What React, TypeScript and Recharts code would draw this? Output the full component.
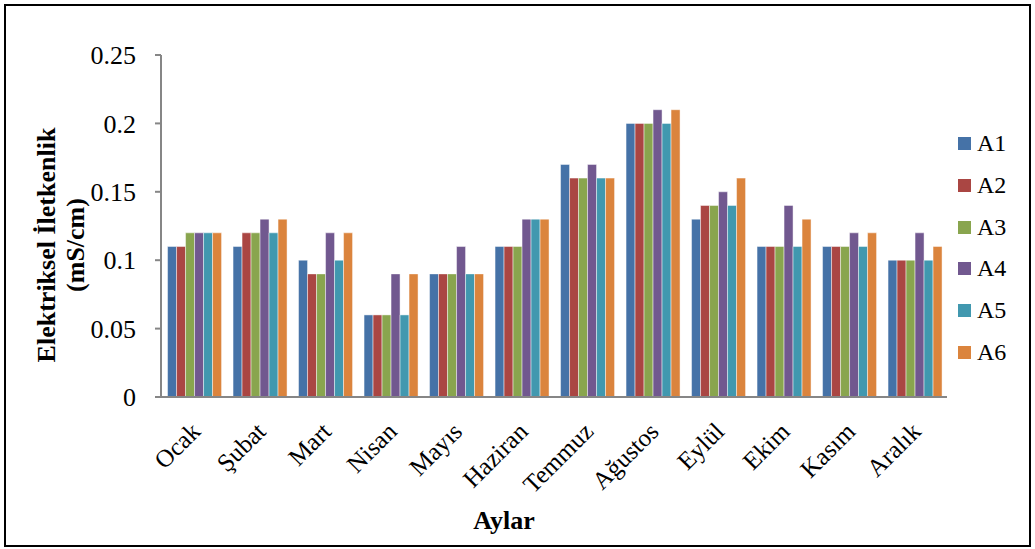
import { BarChart, Bar, XAxis, YAxis } from 'recharts';

const months = ['Ocak', 'Şubat', 'Mart', 'Nisan', 'Mayıs', 'Haziran', 'Temmuz', 'Ağustos', 'Eylül', 'Ekim', 'Kasım', 'Aralık'];

const A1 = [0.11, 0.11, 0.1, 0.06, 0.09, 0.11, 0.17, 0.2, 0.13, 0.11, 0.11, 0.1];
const A2 = [0.11, 0.12, 0.09, 0.06, 0.09, 0.11, 0.16, 0.2, 0.14, 0.11, 0.11, 0.1];
const A3 = [0.12, 0.12, 0.09, 0.06, 0.09, 0.11, 0.16, 0.2, 0.14, 0.11, 0.11, 0.1];
const A4 = [0.12, 0.13, 0.12, 0.09, 0.11, 0.13, 0.17, 0.21, 0.15, 0.14, 0.12, 0.12];
const A5 = [0.12, 0.12, 0.1, 0.06, 0.09, 0.13, 0.16, 0.2, 0.14, 0.11, 0.11, 0.1];
const A6 = [0.12, 0.13, 0.12, 0.09, 0.09, 0.13, 0.16, 0.21, 0.16, 0.13, 0.12, 0.11];

const yTicks = [0, 0.05, 0.1, 0.15, 0.2, 0.25];
const boundaryTicks = [0, 1, 2, 3, 4, 5, 6, 7, 8, 9, 10, 11, 12];

const series = [
  { key: 'A1', values: A1, color: '#4572A7' },
  { key: 'A2', values: A2, color: '#AA4643' },
  { key: 'A3', values: A3, color: '#89A54E' },
  { key: 'A4', values: A4, color: '#71588F' },
  { key: 'A5', values: A5, color: '#4198AF' },
  { key: 'A6', values: A6, color: '#DB843D' },
];

const data = months.map((m, i) => {
  const row: Record<string, string | number> = { month: m, idx: i + 0.5 };
  series.forEach((s) => (row[s.key] = s.values[i]));
  return row;
});

const FONT = '"Liberation Serif", "Times New Roman", serif';
const AXIS = '#868686';

// month names, rotated like Excel's 45° labels
function MonthTick(props: any) {
  const { x, y, payload } = props;
  return (
    <text
      x={0}
      y={0}
      transform={`translate(${x + 8},${y + 28}) rotate(-45)`}
      textAnchor="end"
      fontFamily={FONT}
      fontSize={25}
      fill="#000"
    >
      {payload.value}
    </text>
  );
}

function YTitle(props: any) {
  const { viewBox } = props;
  const cy = viewBox.y + viewBox.height / 2 + 19;
  return (
    <g fontFamily={FONT} fontSize={26} fontWeight="bold" fill="#000">
      <text x={55} y={cy} textAnchor="middle" transform={`rotate(-90, 55, ${cy})`}>
        Elektriksel İletkenlik
      </text>
      <text x={84} y={cy} textAnchor="middle" transform={`rotate(-90, 84, ${cy})`}>
        (mS/cm)
      </text>
    </g>
  );
}

function XTitle(props: any) {
  const { viewBox } = props;
  const cx = viewBox.x + viewBox.width / 2;
  return (
    <text x={cx - 50} y={529} textAnchor="middle" fontFamily={FONT} fontSize={26} fontWeight="bold" fill="#000">
      Aylar
    </text>
  );
}

export default function App() {
  return (
    <div style={{ position: 'absolute', left: 0, top: 0, width: 1035, height: 549, background: '#fff' }}>
      <div
        style={{
          position: 'absolute',
          left: 4,
          top: 4,
          width: 1027,
          height: 543,
          border: '2px solid #000',
          boxSizing: 'border-box',
        }}
      />
      <div style={{ position: 'absolute', left: 0, top: 0 }}>
        <BarChart
          width={1035}
          height={549}
          data={data}
          margin={{ top: 55, right: 88, left: 0, bottom: 0 }}
          barCategoryGap="10%"
          barGap={0}
        >
          <XAxis
            dataKey="month"
            xAxisId="main"
            height={152}
            interval={0}
            tickLine={false}
            axisLine={{ stroke: AXIS, strokeWidth: 2 }}
            tick={<MonthTick />}
            label={<XTitle />}
          />
          {/* tick marks between categories */}
          <XAxis
            dataKey="idx"
            xAxisId="bounds"
            type="number"
            domain={[0, 12]}
            ticks={boundaryTicks}
            height={0}
            axisLine={false}
            tick={false}
            tickLine={{ stroke: AXIS, strokeWidth: 2 }}
            tickSize={7}
          />
          <YAxis
            width={161}
            domain={[0, 0.25]}
            ticks={yTicks}
            interval={0}
            tickFormatter={(v: number) => String(Number(v.toFixed(2)))}
            axisLine={{ stroke: AXIS, strokeWidth: 2 }}
            tickLine={{ stroke: AXIS, strokeWidth: 2 }}
            tickSize={6}
            tickMargin={19}
            tick={{ fontFamily: FONT, fontSize: 26, fill: '#000' }}
            label={<YTitle />}
          />
          {series.map((s) => (
            <Bar
              key={s.key}
              dataKey={s.key}
              xAxisId="main"
              fill={s.color}
              stroke="rgba(255,255,255,0.45)"
              strokeWidth={1}
              isAnimationActive={false}
            />
          ))}
        </BarChart>
      </div>
      <div style={{ position: 'absolute', left: 958, top: 123, fontFamily: FONT, fontSize: 24, color: '#000' }}>
        {series.map((s) => (
          <div key={s.key} style={{ display: 'flex', alignItems: 'center', height: 41.7 }}>
            <span style={{ display: 'inline-block', width: 13, height: 13, background: s.color, marginRight: 6 }} />
            <span>{s.key}</span>
          </div>
        ))}
      </div>
    </div>
  );
}
